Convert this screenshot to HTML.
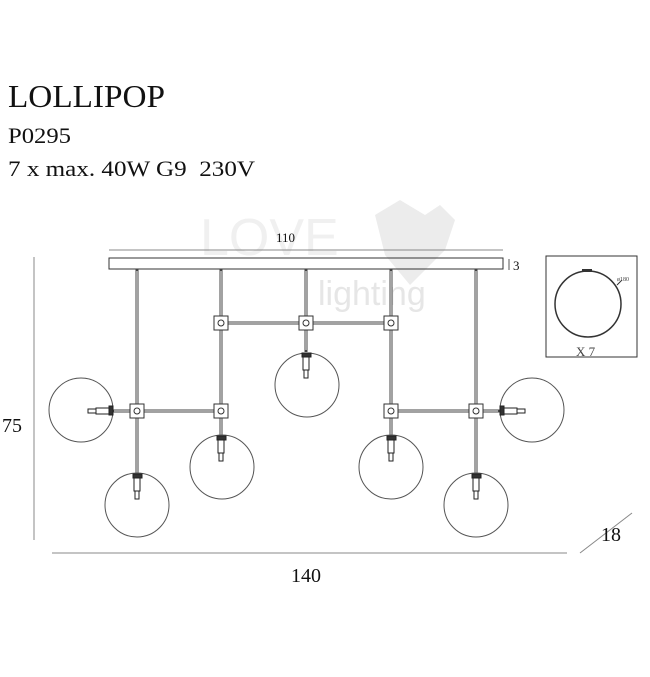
<!DOCTYPE html>
<html><head><meta charset="utf-8"><style>
html,body{margin:0;padding:0;background:#fff;}
svg{display:block;}
</style></head><body>
<svg width="650" height="677" viewBox="0 0 650 677" xmlns="http://www.w3.org/2000/svg" font-family="Liberation Serif, serif">
<rect width="650" height="677" fill="#fff"/>
<text x="8" y="107" font-size="32" fill="#111" textLength="157" lengthAdjust="spacingAndGlyphs">LOLLIPOP</text>
<text x="8" y="143" font-size="22" fill="#111" textLength="63" lengthAdjust="spacingAndGlyphs">P0295</text>
<text x="8" y="176" font-size="22" fill="#111" xml:space="preserve" textLength="247" lengthAdjust="spacingAndGlyphs">7 x max. 40W G9  230V</text>
<!-- watermark -->
<g font-family="Liberation Sans, sans-serif">
<text x="200" y="255" font-size="52" fill="#f0f0f0">LOVE</text>
<text x="318" y="305" font-size="34" fill="#e6e6e6">lighting</text>
<polygon points="375,215 400,200 425,215 440,205 455,220 445,250 410,285 385,255" fill="#ececec"/>
</g>
<g stroke="#333" fill="none" stroke-width="1">
<!-- dims -->
<line x1="109" y1="250" x2="503" y2="250" stroke="#888"/>
<line x1="34" y1="257" x2="34" y2="540" stroke="#888"/>
<line x1="52" y1="553" x2="567" y2="553" stroke="#888"/>
<line x1="580" y1="553" x2="632" y2="513" stroke="#888"/>
<line x1="509" y1="259" x2="509" y2="270" stroke="#555"/>
<!-- canopy -->
<rect x="109" y="258" width="394" height="11" stroke="#333"/>
<!-- rods -->
<g stroke-width="3" stroke="#444">
<line x1="137" y1="269" x2="137" y2="478"/>
<line x1="221" y1="269" x2="221" y2="440"/>
<line x1="306" y1="269" x2="306" y2="352"/>
<line x1="391" y1="269" x2="391" y2="440"/>
<line x1="476" y1="269" x2="476" y2="475"/>
<line x1="221" y1="323" x2="391" y2="323"/>
<line x1="112" y1="411" x2="221" y2="411"/>
<line x1="391" y1="411" x2="500" y2="411"/>
</g>
<g stroke="#fff" stroke-width="1">
<line x1="137" y1="271" x2="137" y2="476"/>
<line x1="221" y1="271" x2="221" y2="438"/>
<line x1="306" y1="271" x2="306" y2="350"/>
<line x1="391" y1="271" x2="391" y2="438"/>
<line x1="476" y1="271" x2="476" y2="473"/>
<line x1="223" y1="323" x2="389" y2="323"/>
<line x1="114" y1="411" x2="219" y2="411"/>
<line x1="393" y1="411" x2="498" y2="411"/>
</g>
<!-- connectors -->
<g fill="#fff" stroke="#333">
<rect x="214" y="316" width="14" height="14"/><circle cx="221" cy="323" r="3"/>
<rect x="299" y="316" width="14" height="14"/><circle cx="306" cy="323" r="3"/>
<rect x="384" y="316" width="14" height="14"/><circle cx="391" cy="323" r="3"/>
<rect x="130" y="404" width="14" height="14"/><circle cx="137" cy="411" r="3"/>
<rect x="214" y="404" width="14" height="14"/><circle cx="221" cy="411" r="3"/>
<rect x="384" y="404" width="14" height="14"/><circle cx="391" cy="411" r="3"/>
<rect x="469" y="404" width="14" height="14"/><circle cx="476" cy="411" r="3"/>
</g>
<!-- bulbs -->
<g stroke="#555">
<circle cx="81" cy="410" r="32"/>
<circle cx="532" cy="410" r="32"/>
<circle cx="307" cy="385" r="32"/>
<circle cx="222" cy="467" r="32"/>
<circle cx="391" cy="467" r="32"/>
<circle cx="137" cy="505" r="32"/>
<circle cx="476" cy="505" r="32"/>
</g>
<!-- sockets -->
<g fill="#fff" stroke="#222">
<rect x="302" y="353" width="9" height="4" fill="#333"/><rect x="303" y="357" width="6" height="13"/><rect x="304" y="370" width="4" height="8"/>
<rect x="217" y="436" width="9" height="4" fill="#333"/><rect x="218" y="440" width="6" height="13"/><rect x="219" y="453" width="4" height="8"/>
<rect x="387" y="436" width="9" height="4" fill="#333"/><rect x="388" y="440" width="6" height="13"/><rect x="389" y="453" width="4" height="8"/>
<rect x="133" y="474" width="9" height="4" fill="#333"/><rect x="134" y="478" width="6" height="13"/><rect x="135" y="491" width="4" height="8"/>
<rect x="472" y="474" width="9" height="4" fill="#333"/><rect x="473" y="478" width="6" height="13"/><rect x="474" y="491" width="4" height="8"/>
<rect x="109" y="406" width="4" height="9" fill="#333"/><rect x="96" y="408" width="13" height="6"/><rect x="88" y="409" width="8" height="4"/>
<rect x="500" y="406" width="4" height="9" fill="#333"/><rect x="504" y="408" width="13" height="6"/><rect x="517" y="409" width="8" height="4"/>
</g>
<!-- inset -->
<rect x="546" y="256" width="91" height="101" stroke="#333"/>
<circle cx="588" cy="304" r="33" stroke="#333" stroke-width="1.5"/>
<rect x="582" y="269" width="10" height="3" fill="#333" stroke="none"/>
<line x1="617" y1="285" x2="622" y2="280" stroke="#333"/>
</g>
<g fill="#111">
<text x="276" y="242" font-size="13">110</text>
<text x="513" y="270" font-size="13">3</text>
<text x="2" y="432" font-size="20">75</text>
<text x="291" y="582" font-size="20">140</text>
<text x="601" y="541" font-size="20">18</text>
<text x="576" y="356" font-size="13" fill="#444">X 7</text>
<text x="617" y="281" font-size="6" fill="#444">ø180</text>
</g>
</svg>
</body></html>
